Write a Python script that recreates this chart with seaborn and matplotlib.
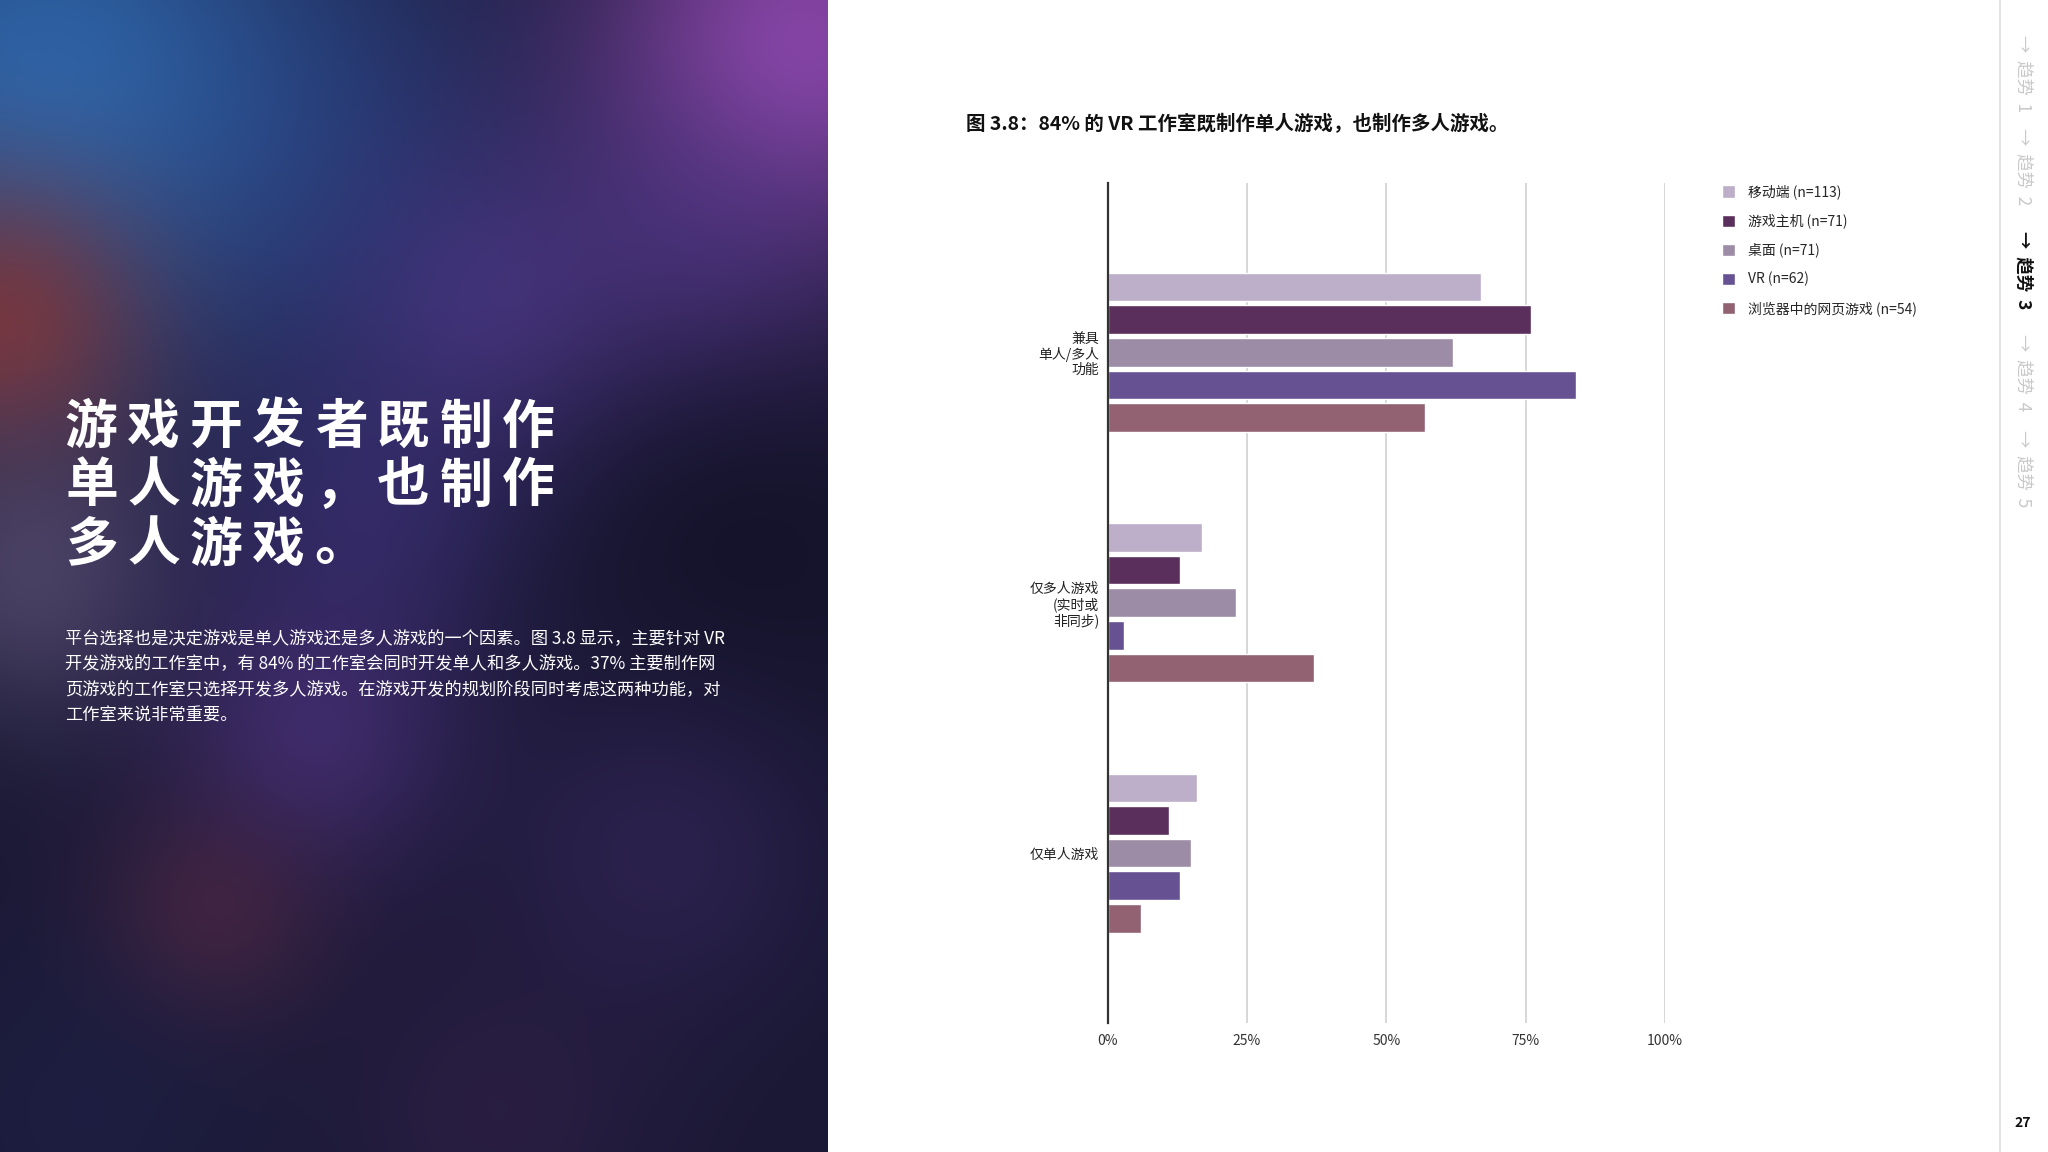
import numpy as np
import pandas as pd
import seaborn as sns
import matplotlib.pyplot as plt
from matplotlib.patches import Patch
from matplotlib.colors import to_rgb

# data
categories = ["兼具\n单人/多人\n功能", "仅多人游戏\n(实时或\n非同步)", "仅单人游戏"]
platforms = ["移动端 (n=113)", "游戏主机 (n=71)", "桌面 (n=71)", "VR (n=62)", "浏览器中的网页游戏 (n=54)"]
mobile = [67, 17, 16]
console = [76, 13, 11]
desktop = [62, 23, 15]
vr = [84, 3, 13]
browser = [57, 37, 6]
palette = ["#bdaeca", "#5a2f5c", "#9d8ca5", "#665192", "#926273"]
x_ticks = [0, 25, 50, 75, 100]
x_labels = ["0%", "25%", "50%", "75%", "100%"]

rows = []
for plat, vals in zip(platforms, [mobile, console, desktop, vr, browser]):
    for cat, v in zip(categories, vals):
        rows.append({"category": cat, "platform": plat, "value": v})
df = pd.DataFrame(rows)

sns.set_theme(style="white")
plt.rcParams["font.family"] = ["Noto Sans CJK SC", "DejaVu Sans"]

W, H = 2048, 1152
fig = plt.figure(figsize=(W / 100, H / 100), dpi=100)
fig.patch.set_facecolor("white")

# left panel: blurred colour background
bg = fig.add_axes([0, 0, 828 / W, 1])
gh, gw = 300, 216
V, U = np.mgrid[0:gh, 0:gw]
U = U / (gw - 1)
V = V / (gh - 1)
img = np.ones((gh, gw, 3)) * np.array(to_rgb("#1a1834"))
blobs = [
    (0.35, 0.12, 0.16, "#283a80", 0.60),
    (0.05, 0.07, 0.17, "#2e66ab", 0.95),
    (0.97, 0.04, 0.13, "#8c47aa", 0.95),
    (0.85, 0.22, 0.10, "#553a92", 0.50),
    (0.00, 0.28, 0.09, "#823638", 0.85),
    (0.04, 0.50, 0.09, "#5f5479", 0.65),
    (0.60, 0.27, 0.10, "#5a3e98", 0.55),
    (0.45, 0.45, 0.10, "#45378a", 0.50),
    (0.38, 0.64, 0.09, "#583890", 0.55),
    (0.90, 0.48, 0.12, "#121126", 0.70),
    (0.25, 0.80, 0.07, "#5c2a45", 0.60),
    (0.10, 0.97, 0.12, "#1e2148", 0.60),
    (0.80, 0.74, 0.10, "#3f2c6c", 0.45),
    (0.60, 0.97, 0.10, "#3a2552", 0.45),
]
for u, v, s, c, a in blobs:
    g = a * np.exp(-((U - u) ** 2 * (828 / 1152) ** 2 + (V - v) ** 2) / (2 * s ** 2))
    img = img * (1 - g[..., None]) + np.array(to_rgb(c)) * g[..., None]
bg.imshow(img, aspect="auto", extent=[0, 1, 0, 1], interpolation="bicubic")
bg.set_axis_off()

# big headline with wide letter spacing
head = ["游戏开发者既制作", "单人游戏，也制作", "多人游戏。"]
for li, line in enumerate(head):
    yc = 427 + li * 59
    for ci, ch in enumerate(line):
        fig.text((65 + ci * 62.4) / W, 1 - yc / H, ch, color="white", fontsize=38,
                 fontweight="bold", va="center", ha="left")

body = ["平台选择也是决定游戏是单人游戏还是多人游戏的一个因素。图 3.8 显示，主要针对 VR",
        "开发游戏的工作室中，有 84% 的工作室会同时开发单人和多人游戏。37% 主要制作网",
        "页游戏的工作室只选择开发多人游戏。在游戏开发的规划阶段同时考虑这两种功能，对",
        "工作室来说非常重要。"]
for i, line in enumerate(body):
    fig.text(65 / W, 1 - (639 + i * 25.5) / H, line, color="white", fontsize=12.4,
             fontweight="medium", va="center", ha="left")

# chart
ax = fig.add_axes([1107.6 / W, 1 - 1022.6 / H, (1665.2 - 1107.6) / W, (1022.6 - 182.8) / H])
sns.barplot(data=df, x="value", y="category", hue="platform", orient="h",
            palette=palette, saturation=1, width=0.651, gap=0.12, ax=ax, legend=False)
ax.set_xlim(0, 100)
ax.set_ylim(2.677, -0.677)
ax.set_xticks(x_ticks, x_labels)
ax.xaxis.grid(True, color="#d4d4d4", lw=1.3)
ax.set_axisbelow(True)
for side in ["top", "right", "bottom"]:
    ax.spines[side].set_visible(False)
ax.spines["left"].set_color("#333333")
ax.spines["left"].set_linewidth(1.6)
ax.set_xlabel("")
ax.set_ylabel("")
ax.tick_params(axis="both", length=0, labelsize=10, colors="#333333")
ax.tick_params(axis="x", pad=8)
ax.tick_params(axis="y", pad=6)
for lab in ax.get_yticklabels():
    lab.set_multialignment("right")
    lab.set_linespacing(1.1)
    lab.set_color("#222222")

fig.text(966 / W, 1 - 124 / H, "图 3.8：84% 的 VR 工作室既制作单人游戏，也制作多人游戏。",
         fontsize=14, fontweight="bold", color="#111111", va="center", ha="left")

handles = [Patch(facecolor=c, label=p) for c, p in zip(palette, platforms)]
fig.legend(handles=handles, loc="upper left", bbox_to_anchor=(1716 / W, 1 - 179 / H),
           frameon=False, fontsize=10, handlelength=1.0, handleheight=1.0,
           handletextpad=0.9, labelspacing=1.03, borderaxespad=0)

# right-side navigation
fig.add_artist(plt.Line2D([2000 / W, 2000 / W], [0, 1], color="#e3e3e3", lw=1.5))
nav_tops = [35, 128, 231, 334, 430]
for i, top in enumerate(nav_tops):
    cur = i == 2
    fig.text(2024 / W, 1 - top / H, f"→  趋势  {i + 1}", rotation=-90,
             fontsize=12.5, fontweight="bold" if cur else "normal",
             color="#111111" if cur else "#c9c9c9", ha="center", va="top")
fig.text(2023 / W, 1 - 1123 / H, "27", fontsize=10, fontweight="bold",
         color="#111111", ha="center", va="center")

fig.savefig("out.png", dpi=100)
